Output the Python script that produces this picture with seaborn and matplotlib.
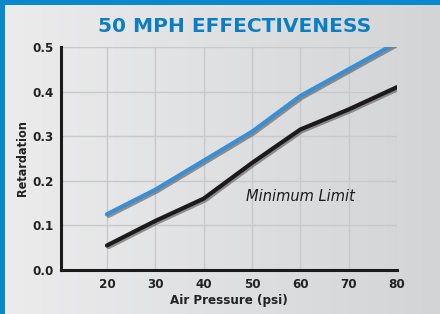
import numpy as np
import pandas as pd
import matplotlib
matplotlib.use('Agg')
import matplotlib.pyplot as plt
import matplotlib.patheffects as pe
import seaborn as sns

# chart data
pressure = [20, 30, 40, 50, 60, 70, 80]
effective = [0.125, 0.18, 0.245, 0.31, 0.39, 0.45, 0.51]
minimum = [0.055, 0.11, 0.16, 0.24, 0.315, 0.36, 0.41]
y_ticks = [0.0, 0.1, 0.2, 0.3, 0.4, 0.5]

df = pd.DataFrame({'psi': pressure * 2,
                   'ret': effective + minimum,
                   'series': ['Effective'] * 7 + ['Minimum'] * 7})

sns.set_theme(style='white')
plt.rcParams['font.family'] = ['DejaVu Sans']

W, H = 440, 314
fig = plt.figure(figsize=(W / 100, H / 100), dpi=100)
fig.patch.set_facecolor('#0a88cc')

# gradient panel behind everything
bg = fig.add_axes([5 / W, 0, 1 - 5 / W, 1 - 5 / H], zorder=0)
grad = np.linspace(0, 1, 256)[None, :]
cmap = matplotlib.colors.LinearSegmentedColormap.from_list('bg', ['#ececed', '#d3d4d6'])
bg.imshow(grad, aspect='auto', cmap=cmap, extent=[0, 1, 0, 1])
bg.set_axis_off()

ax = fig.add_axes([61 / W, (H - 270) / H, (397 - 61) / W, (270 - 47) / H], zorder=1)
ax.patch.set_alpha(0)

shadow = [pe.SimpleLineShadow(offset=(1.2, -1.2), shadow_color='#555555', alpha=0.6), pe.Normal()]
sns.lineplot(data=df, x='psi', y='ret', hue='series',
             palette={'Effective': '#3a8fd4', 'Minimum': '#1c1a1b'},
             linewidth=3.0, legend=False, ax=ax)
for ln in ax.get_lines():
    ln.set_path_effects(shadow)
    ln.set_solid_capstyle('round')
    ln.set_zorder(3)

ax.set_xlim(10.5, 80)
ax.set_ylim(0, 0.5)
ax.set_xticks(pressure)
ax.set_yticks(y_ticks)
ax.set_yticklabels([f'{v:.1f}' for v in y_ticks])
ax.grid(True, color='#c8c9cb', linewidth=1.0)
for side in ['top', 'right']:
    ax.spines[side].set_visible(False)
for side in ['left', 'bottom']:
    ax.spines[side].set_linewidth(2.2)
    ax.spines[side].set_color('#1a1a1a')
ax.tick_params(axis='x', direction='in', length=4, width=1.8, color='#1a1a1a',
               labelsize=9.5, pad=6)
ax.tick_params(axis='y', direction='in', length=6, width=1.8, color='#1a1a1a',
               labelsize=9.5, pad=5)
for lab in ax.get_xticklabels() + ax.get_yticklabels():
    lab.set_fontweight('bold')
    lab.set_fontstretch('condensed')
    lab.set_color('#222222')

ax.set_xlabel('Air Pressure (psi)', fontsize=9.5, fontweight='bold', fontstretch='condensed',
              color='#222222', labelpad=2)
ax.set_ylabel('Retardation', fontsize=9, fontweight='bold', fontstretch='condensed',
              color='#222222', labelpad=3)

ax.text(48.8, 0.165, 'Minimum Limit', fontsize=10.5, style='italic', color='#1a1a1a',
        ha='left', va='center')

fig.text(235 / W, 1 - 27 / H, '50 MPH EFFECTIVENESS', fontsize=14.5, fontweight='bold',
         color='#0b7ec3', ha='center', va='center')

fig.savefig('out.png', dpi=100, facecolor=fig.get_facecolor())
